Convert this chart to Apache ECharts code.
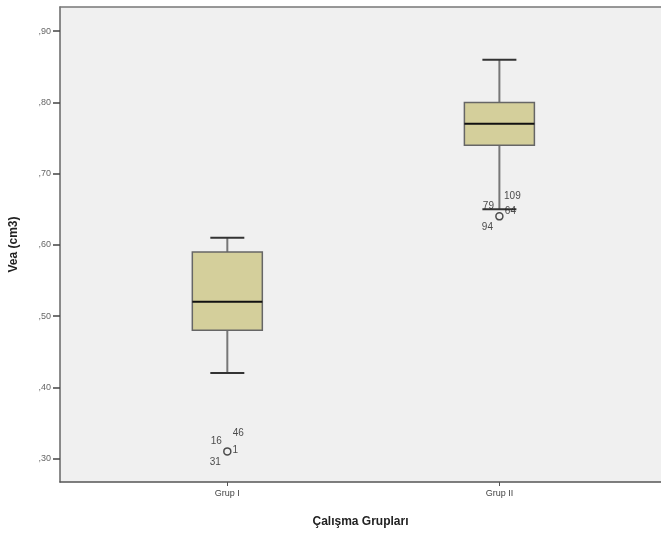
<!DOCTYPE html>
<html>
<head>
<meta charset="utf-8">
<script src="https://cdn.jsdelivr.net/npm/echarts@6/dist/echarts.min.js"></script>
<style>html,body{margin:0;padding:0;background:#fff}#c{width:661px;height:538px}</style>
</head>
<body>
<div id="c"></div>
<script>
// Data
const groups = ['Grup I', 'Grup II'];
const groupPos = [1, 2];
// [min whisker, Q1, median, Q3, max whisker]
const boxStats = [
  [0.42, 0.48, 0.52, 0.59, 0.61],
  [0.65, 0.74, 0.77, 0.80, 0.86]
];
const outlierValues = [0.31, 0.64];
const outlierLabels = [
  ['16', '46', '1', '31'],
  ['79', '109', '64', '94']
];
const yTicks = [0.3, 0.4, 0.5, 0.6, 0.7, 0.8, 0.9];

// Label offsets (style only)
const labelOffsets = [
  [[-11, -10], [11, -18], [8, -1], [-12, 11]],
  [[-11, -10], [13, -20], [11, -5], [-12, 11]]
];

const boxData = groupPos.map((x, i) => [x].concat(boxStats[i]));
const outlierData = groupPos.map((x, i) => [x, outlierValues[i]]);
const labelData = [];
outlierLabels.forEach((labs, gi) => {
  labs.forEach((t, li) => {
    labelData.push({
      value: [groupPos[gi], outlierValues[gi]],
      label: { show: true, formatter: t, offset: labelOffsets[gi][li] }
    });
  });
});

const chart = echarts.init(document.getElementById('c'));
const fontFam = '"Liberation Sans", Arial, sans-serif';
chart.setOption({
  animation: false,
  backgroundColor: '#fff',
  grid: { left: 58, top: 7, right: 0, bottom: 56, show: true, backgroundColor: '#f0f0f0', borderWidth: 0 },
  xAxis: [{
    type: 'value',
    min: 0.385, max: 2.594,
    axisLine: { show: true, lineStyle: { color: '#555', width: 1.5 } },
    axisTick: { show: true, customValues: groupPos, length: 4, lineStyle: { color: '#555' } },
    axisLabel: {
      customValues: groupPos,
      formatter: v => groups[groupPos.indexOf(v)] || '',
      fontSize: 9, color: '#444', fontFamily: fontFam, margin: 7
    },
    splitLine: { show: false },
    name: 'Çalışma Grupları',
    nameLocation: 'middle', nameGap: 34,
    nameTextStyle: { fontSize: 12, fontWeight: 'bold', color: '#222', fontFamily: fontFam }
  }, {
    type: 'value', position: 'top',
    min: 0.385, max: 2.594,
    axisLine: { show: true, onZero: false, lineStyle: { color: '#777', width: 1.5 } },
    axisTick: { show: false }, axisLabel: { show: false }, splitLine: { show: false }
  }],
  yAxis: {
    type: 'value',
    min: 0.267, max: 0.934,
    axisLine: { show: true, lineStyle: { color: '#666', width: 1.5 } },
    axisTick: { show: true, customValues: yTicks, length: 7, lineStyle: { color: '#444', width: 1.5 } },
    axisLabel: {
      customValues: yTicks,
      formatter: v => ',' + v.toFixed(2).slice(2),
      fontSize: 9, color: '#666', fontFamily: fontFam, margin: 9
    },
    splitLine: { show: false },
    name: 'Vea (cm3)',
    nameLocation: 'middle', nameGap: 40,
    nameTextStyle: { fontSize: 12, fontWeight: 'bold', color: '#222', fontFamily: fontFam }
  },
  series: [{
    type: 'custom',
    data: boxData,
    renderItem: function (params, api) {
      const x = api.value(0);
      const pLo = api.coord([x, api.value(1)]);
      const pQ1 = api.coord([x, api.value(2)]);
      const pMed = api.coord([x, api.value(3)]);
      const pQ3 = api.coord([x, api.value(4)]);
      const pHi = api.coord([x, api.value(5)]);
      const hw = 35, cw = 17;
      const cx = pMed[0];
      return {
        type: 'group',
        children: [
          { type: 'line', shape: { x1: cx, y1: pQ1[1], x2: cx, y2: pLo[1] }, style: { stroke: '#777', lineWidth: 2 } },
          { type: 'line', shape: { x1: cx, y1: pQ3[1], x2: cx, y2: pHi[1] }, style: { stroke: '#777', lineWidth: 2 } },
          { type: 'line', shape: { x1: cx - cw, y1: pLo[1], x2: cx + cw, y2: pLo[1] }, style: { stroke: '#333', lineWidth: 2 } },
          { type: 'line', shape: { x1: cx - cw, y1: pHi[1], x2: cx + cw, y2: pHi[1] }, style: { stroke: '#333', lineWidth: 2 } },
          { type: 'rect', shape: { x: cx - hw, y: pQ3[1], width: 2 * hw, height: pQ1[1] - pQ3[1] }, style: { fill: '#d4cf9b', stroke: '#666', lineWidth: 1.5 } },
          { type: 'line', shape: { x1: cx - hw, y1: pMed[1], x2: cx + hw, y2: pMed[1] }, style: { stroke: '#111', lineWidth: 2 } }
        ]
      };
    }
  }, {
    type: 'scatter',
    data: outlierData,
    symbol: 'circle',
    symbolSize: 7,
    itemStyle: { color: 'rgba(0,0,0,0)', borderColor: '#222', borderWidth: 1.5 },
    z: 5
  }, {
    type: 'scatter',
    data: labelData,
    symbolSize: 0,
    label: { show: true, position: 'inside', fontSize: 10, color: '#222', fontFamily: fontFam },
    z: 6
  }]
});
</script>
</body>
</html>
